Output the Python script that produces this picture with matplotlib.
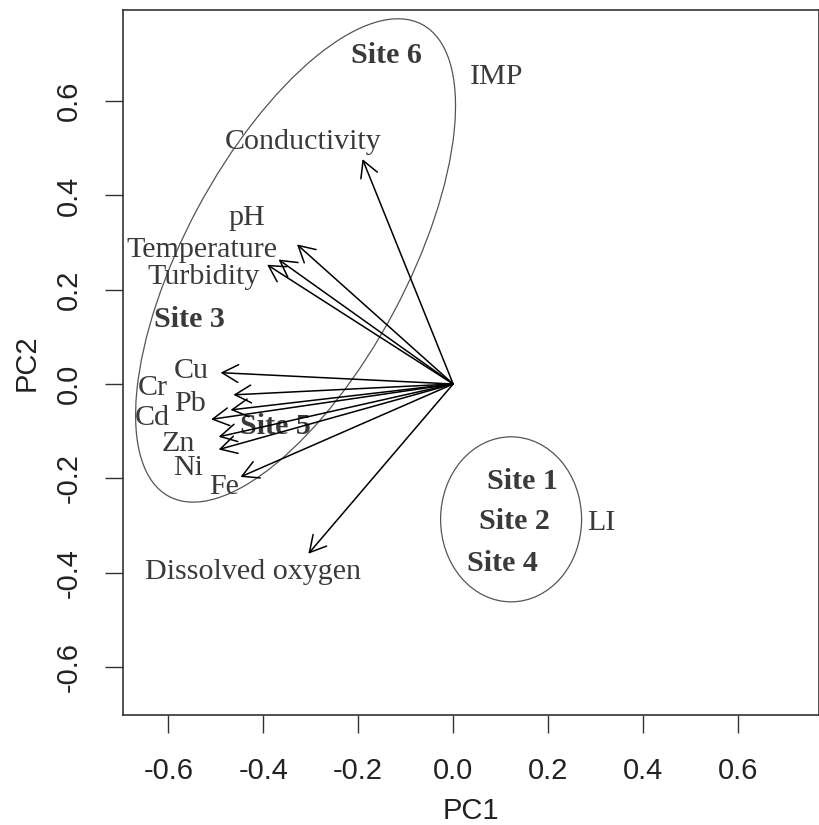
import numpy as np
import matplotlib
matplotlib.use("Agg")
import matplotlib.pyplot as plt
from matplotlib.patches import Ellipse


# =========================================================
# DATA
# =========================================================
variables = ["Conductivity", "pH", "Temperature", "Turbidity", "Cu", "Cr",
             "Pb", "Cd", "Zn", "Ni", "Fe", "Dissolved oxygen"]
load_pc1 = [-0.191, -0.329, -0.368, -0.392, -0.490, -0.463,
            -0.469, -0.510, -0.494, -0.494, -0.448, -0.305]
load_pc2 = [0.477, 0.296, 0.264, 0.253, 0.024, -0.023,
            -0.055, -0.075, -0.112, -0.139, -0.197, -0.360]

sites = ["Site 6", "Site 3", "Site 5", "Site 1", "Site 2", "Site 4"]
site_pc1 = [-0.141, -0.556, -0.375, 0.145, 0.130, 0.104]
site_pc2 = [0.696, 0.136, -0.090, -0.207, -0.292, -0.380]

# groups: name, centre, width, height, angle
groups = ["IMP", "LI"]
group_centre = [(-0.332, 0.262), (0.122, -0.287)]
group_size = [(1.134, 0.468), (0.297, 0.350)]
group_angle = [62.0, 0.0]
group_label_xy = [(0.091, 0.651), (0.312, -0.295)]

# label offsets from arrow tips (points)
label_offset = [(-43, 12), (-36, 19), (-55, 7), (-46, -9), (-21, 1), (-58, 5),
                (-29, 4), (-42, 1), (-29, -5), (-22, -13), (-12, -7), (-40, -13)]

TXT = "#3a3a3a"
SERIF = ["Liberation Serif", "DejaVu Serif"]
SANS = ["Liberation Sans", "DejaVu Sans"]
FS = 21.6

plt.rcParams["axes.unicode_minus"] = False
plt.rcParams["font.family"] = SANS

fig = plt.figure(figsize=(8.2, 8.25), dpi=100)
ax = fig.add_axes([0.15, 0.1333, 0.849, 0.8545])

ax.set_xlim(-0.6955, 0.771)
ax.set_ylim(-0.702, 0.793)

# group ellipses
for name, c, (w, h), ang, lxy in zip(groups, group_centre, group_size,
                                      group_angle, group_label_xy):
    ax.add_patch(Ellipse(c, w, h, angle=ang, fill=False,
                         edgecolor="#555555", lw=0.9, zorder=1))
    ax.text(lxy[0], lxy[1], name, family=SERIF, fontsize=FS,
            color=TXT, ha="center", va="center", zorder=2)

# site scores
for s, x, y in zip(sites, site_pc1, site_pc2):
    ax.text(x, y, s, family=SERIF, fontsize=FS, fontweight="bold",
            color=TXT, ha="center", va="center", zorder=2)

# loading arrows
for v, x, y, off in zip(variables, load_pc1, load_pc2, label_offset):
    ax.annotate("", xy=(x, y), xytext=(0, 0),
                arrowprops=dict(arrowstyle="->,head_length=0.58,head_width=0.32",
                                mutation_scale=20, lw=1.1, color="black",
                                shrinkA=0, shrinkB=0),
                zorder=3)
    ax.annotate(v, xy=(x, y), xytext=off, textcoords="offset points",
                family=SERIF, fontsize=FS, color=TXT,
                ha="center", va="center", zorder=2)

ticks = [-0.6, -0.4, -0.2, 0.0, 0.2, 0.4, 0.6]
ax.set_xticks(ticks)
ax.set_yticks(ticks)
ax.set_xticklabels([f"{t:.1f}" for t in ticks])
ax.set_yticklabels([f"{t:.1f}" for t in ticks], rotation=90, va="center")
ax.tick_params(axis="both", direction="out", length=13, width=1.0,
               color="#333333", labelsize=21, labelcolor="#222222")
ax.tick_params(axis="x", pad=17)
ax.tick_params(axis="y", pad=16)

for sp in ax.spines.values():
    sp.set_linewidth(1.2)
    sp.set_color("#333333")

ax.set_xlabel("PC1", fontsize=21, color="#222222", labelpad=9)
ax.set_ylabel("PC2", fontsize=21, color="#222222", labelpad=10)

fig.savefig("out.png", dpi=100)
